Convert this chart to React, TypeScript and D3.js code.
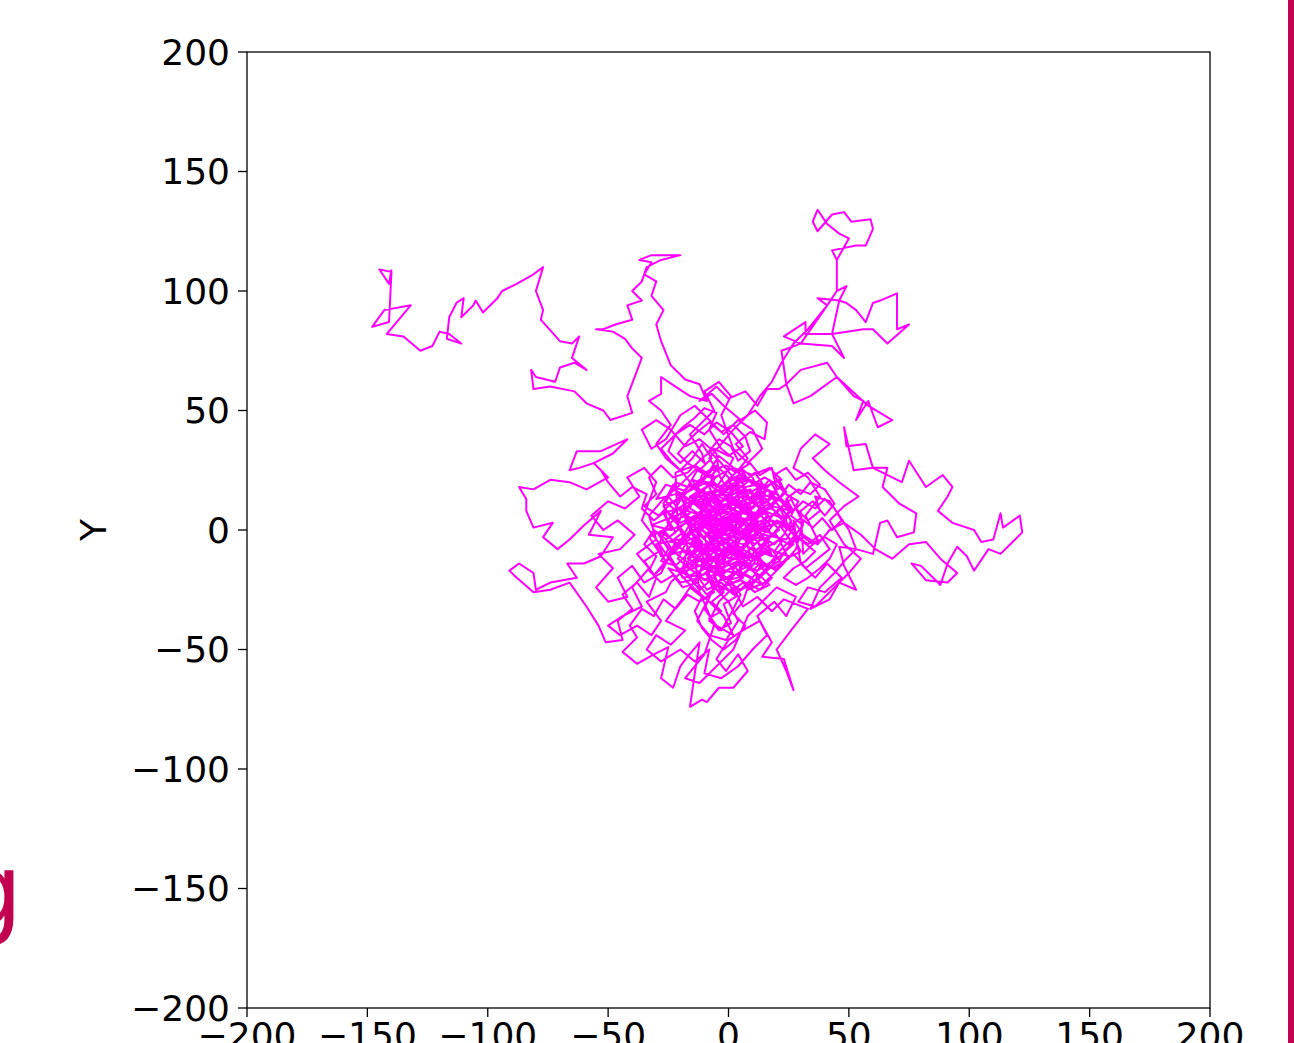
import * as d3 from "d3"

// in data units
const coreA: [number, number][] = [
  [0, 0], [4, 3], [1, 8], [-5, 6], [-3, 1], [-9, -2], [-6, -7], [0, -5], [3, -10], [8, -6], [6, 0], [11, 3], [9, 9], [4, 12],
  [-2, 10], [-6, 14], [-11, 10], [-8, 4], [-14, 2], [-12, -4], [-17, -8], [-13, -13], [-7, -11], [-4, -16], [2, -14], [5, -19],
  [10, -15], [13, -9], [18, -11], [16, -4], [21, 0], [17, 5], [14, 11], [19, 15], [13, 18], [8, 15], [5, 21], [-1, 18], [-4, 23],
  [-9, 19], [-15, 21], [-12, 15], [-19, 12], [-16, 7], [-22, 4], [-19, -1], [-24, -5], [-18, -6], [-21, -12], [-15, -17],
  [-10, -21], [-5, -18], [0, -23], [6, -20], [4, -13], [9, -10], [7, -4], [12, -1], [10, 5], [5, 3], [2, 7], [-3, 4], [-1, -2],
  [-7, 0], [-4, -5], [2, -3], [5, 2], [1, 4],
]

const armLeft: [number, number][] = [
  [-8, 2], [-14, 6], [-20, 3], [-26, 8], [-31, 4], [-36, 9], [-34, 15], [-40, 18], [-45, 14], [-50, 20], [-53, 25], [-56, 28],
  [-62, 26], [-66, 25], [-63, 33], [-53, 33], [-42, 38], [-48, 32], [-56, 28], [-50, 22], [-59, 17], [-66, 20], [-74, 21],
  [-81, 17], [-87, 18], [-84, 13], [-84, 8], [-81, 1], [-73, 3], [-77, -3], [-71, -8], [-66, -4], [-60, 2], [-53, 8], [-58, -2],
  [-48, -3], [-53, -11], [-60, -14], [-67, -14], [-63, -20], [-74, -22], [-80, -25], [-81, -18], [-87, -14], [-91, -17],
  [-89, -19], [-81, -26], [-74, -25], [-66, -22], [-59, -32], [-54, -40], [-51, -47], [-44, -46], [-46, -38], [-40, -33],
  [-44, -27], [-38, -22], [-33, -28], [-30, -20], [-35, -13], [-29, -9], [-33, -3], [-27, 0], [-22, -6],
]

const fillLeft: [number, number][] = [
  [-28, -18], [-35, -22], [-40, -15], [-46, -20], [-42, -28], [-50, -30], [-55, -24], [-48, -16], [-54, -10], [-45, -8],
  [-39, -2], [-46, 4], [-52, 0], [-57, 6], [-50, 12], [-43, 9], [-37, 14], [-42, 22], [-35, 26], [-30, 20], [-36, 4],
  [-30, -4], [-38, -10], [-33, -16], [-40, -24], [-36, -32], [-44, -36], [-50, -40], [-45, -44], [-38, -40], [-32, -44],
  [-28, -38], [-34, -30], [-26, -26],
]

const coreG: [number, number][] = [
  [-24, -22], [-14, -12], [-6, -3], [2, 5], [10, 13], [17, 21], [21, 14], [13, 6], [6, -3], [-2, -11], [-9, -19], [-4, -26],
  [4, -17], [11, -9], [19, -1], [25, 6], [28, -2], [21, -9], [14, -18], [8, -25], [15, -22], [22, -15], [28, -8], [31, 3],
  [26, 13], [19, 7], [12, -2], [4, -10], [-4, -18], [-12, -25], [-18, -18], [-10, -9], [-2, -1], [6, 8], [13, 17], [6, 23],
  [-1, 14], [-8, 6], [-16, -2], [-23, -10], [-29, -2], [-21, 6], [-13, 14], [-6, 21], [-13, 26], [-20, 19], [-27, 13],
  [-33, 6], [-30, -4], [-24, -13], [-17, -22], [-8, -30], [-2, -36], [2, -44], [-5, -40], [-10, -33], [-6, -24], [0, -30],
  [4, -38], [-1, -46], [-8, -44], [-13, -38], [-8, -28], [-3, -20],
]

const coreB: [number, number][] = [
  [3, 10], [-2, 13], [-7, 9], [-10, 14], [-5, 17], [0, 14], [6, 17], [10, 12], [15, 14], [12, 7], [17, 3], [14, -3], [19, -6],
  [23, -2], [26, 4], [22, 9], [25, 14], [20, 19], [15, 22], [10, 19], [6, 24], [1, 21], [-4, 26], [-8, 22], [-13, 25], [-17, 18],
  [-22, 20], [-25, 14], [-21, 9], [-27, 7], [-24, 1], [-29, -2], [-25, -8], [-28, -13], [-22, -15], [-19, -20], [-13, -19],
  [-9, -25], [-3, -22], [2, -27], [7, -24], [12, -20], [16, -16], [21, -13], [24, -8], [28, -4], [25, 2], [20, 4], [16, -1],
  [11, 1], [8, -3], [3, -1], [-1, 3], [-6, 2], [-10, -3], [-8, -9], [-2, -8], [3, -6], [6, -11], [1, -12], [-4, -10], [-9, -14],
  [-14, -10], [-11, -5], [-16, 0], [-13, 5], [-8, 7], [-3, 9], [2, 6], [7, 8], [12, 4], [9, -1], [4, -4], [-2, -1],
]

const armBottom: [number, number][] = [
  [-5, -10], [-9, -18], [-6, -26], [-12, -30], [-17, -27], [-22, -33], [-27, -29], [-31, -36], [-36, -33], [-41, -40],
  [-38, -45], [-44, -51], [-38, -56], [-31, -52], [-25, -49], [-28, -62], [-23, -66], [-20, -57], [-17, -53], [-12, -47],
  [-14, -60], [-16, -74], [-11, -71], [-9, -72], [-4, -66], [2, -66], [8, -59], [4, -52], [-1, -59], [-5, -54], [0, -46],
  [6, -42], [13, -38], [18, -47], [14, -53], [23, -54], [27, -67], [24, -59], [20, -50], [26, -42], [33, -33], [23, -29],
  [18, -34], [12, -28], [6, -32], [2, -24], [-4, -30], [-8, -38], [-3, -42], [1, -35], [5, -27], [0, -20], [-6, -22], [-10, -15],
]

const fillBottom: [number, number][] = [
  [-20, -30], [-26, -38], [-18, -42], [-24, -48], [-30, -44], [-34, -50], [-28, -55], [-20, -50], [-14, -55], [-8, -50],
  [-10, -60], [-3, -62], [4, -57], [10, -50], [16, -44], [12, -36], [19, -30], [24, -36], [28, -28], [20, -24], [14, -30],
  [8, -36], [2, -50], [-4, -56], [-12, -64], [-18, -62], [-10, -52], [-6, -40], [-12, -26],
]

const coreC: [number, number][] = [
  [-14, -12], [-18, -5], [-12, -2], [-16, 4], [-10, 8], [-14, 13], [-8, 16], [-3, 12], [2, 16], [0, 22], [6, 20], [11, 24],
  [15, 18], [21, 21], [24, 15], [29, 12], [26, 6], [31, 2], [27, -3], [30, -9], [24, -12], [20, -17], [14, -14], [10, -20],
  [4, -17], [-1, -20], [-6, -15], [-11, -19], [-16, -14], [-21, -17], [-25, -11], [-22, -5], [-28, -1], [-23, 4], [-27, 10],
  [-21, 13], [-17, 18], [-11, 20], [-7, 25], [-1, 27], [3, 24], [9, 28], [13, 23], [18, 26], [20, 17], [16, 12], [20, 7],
  [14, 4], [18, -2], [12, -5], [15, -10], [9, -13], [5, -8], [0, -12], [-4, -7], [-9, -9], [-7, -3], [-12, 1], [-6, 5], [-1, 1],
  [4, 5], [8, 1], [11, 7], [6, 9], [1, 12], [-4, 9],
]

const armRight: [number, number][] = [
  [2, 6], [9, 4], [15, 8], [22, 5], [28, 9], [33, 4], [38, 8], [36, 14], [42, 12], [46, 6], [50, 0], [53, -8], [46, -7],
  [48, -15], [53, -25], [46, -22], [42, -29], [34, -33], [38, -24], [44, -18], [49, -12], [53, -8], [60, -10], [63, 3], [66, 4],
  [70, -3], [77, -1], [78, 7], [71, 11], [64, 18], [66, 26], [60, 26], [57, 36], [49, 35], [48, 43], [52, 25], [60, 26],
  [72, 20], [75, 29], [82, 18], [89, 23], [93, 18], [91, 14], [87, 8], [93, 3], [102, 0], [105, -5], [110, -4], [113, 7],
  [114, 1], [121, 6], [122, -1], [116, -7], [113, -10], [108, -8], [102, -17], [99, -11], [95, -7], [91, -14], [88, -23],
  [85, -20], [80, -15], [76, -14], [82, -21], [91, -22], [95, -18], [88, -12], [82, -5], [75, -6], [68, -12], [61, -8],
  [55, -2], [48, 3], [42, 0], [37, -6], [31, -2], [27, 4],
]

const fillRight: [number, number][] = [
  [30, -14], [36, -20], [41, -14], [47, -20], [40, -26], [33, -24], [29, -30], [36, -32], [44, -24], [50, -18], [55, -12],
  [48, -6], [42, 4], [48, 10], [54, 14], [46, 20], [40, 25], [35, 30], [42, 36], [36, 40], [30, 34], [27, 26], [33, 22],
  [38, 14], [32, 6], [37, -4], [31, -10],
]

const coreD: [number, number][] = [
  [30, 8], [35, 12], [40, 6], [44, 11], [40, 17], [34, 20], [30, 15], [25, 19], [21, 13], [25, 8], [22, 2], [28, -2], [33, -6],
  [38, -2], [42, -8], [37, -12], [32, -16], [27, -10], [22, -14], [18, -8], [13, -11], [9, -5], [4, -9], [-1, -4], [-5, -8],
  [-10, -4], [-7, 2], [-12, 6], [-8, 11], [-3, 7], [2, 11], [7, 7], [12, 11], [9, 16], [4, 19], [-2, 16], [-6, 20], [-11, 17],
  [-15, 11], [-19, 7], [-15, 1], [-19, -4], [-14, -7], [-9, -11], [-3, -14], [3, -12], [8, -16], [13, -19], [17, -23],
  [11, -26], [6, -22], [1, -26], [-4, -23], [-9, -27], [-13, -22], [-19, -24], [-23, -19], [-28, -22], [-33, -17], [-30, -11],
  [-35, -6], [-31, 0], [-26, -4], [-21, 0],
]

const coreF: [number, number][] = [
  [-22, 24], [-14, 27], [-6, 22], [2, 26], [10, 23], [17, 26], [22, 21], [15, 18], [7, 21], [-1, 17], [-9, 20], [-17, 16],
  [-26, 19], [-30, 13], [-22, 15], [-13, 11], [-4, 15], [5, 12], [14, 15], [23, 12], [26, 8], [18, 10], [9, 6], [0, 9],
  [-8, 5], [-17, 8], [-27, 4], [-32, 2], [-24, 0], [-15, 4], [-6, 1], [3, 4], [12, 0], [21, 3], [27, 1], [24, -4], [15, -2],
  [6, -6], [-3, -3], [-12, -7], [-21, -4], [-30, -6], [-28, -11], [-19, -9], [-10, -13], [-1, -9], [8, -12], [17, -8],
  [25, -11], [20, -16], [11, -14], [2, -18], [-7, -15], [-16, -19], [-25, -16], [-20, -22], [-11, -20], [-3, -24], [5, -21],
  [13, -25], [18, -20], [12, -14], [15, -5], [11, 4], [14, 13], [10, 22], [5, 26], [3, 17], [6, 8], [2, -1], [5, -10],
  [1, -19], [-3, -27], [-6, -18], [-3, -9], [-7, 0], [-4, 9], [-8, 18], [-5, 27], [-11, 23], [-14, 14], [-10, 5], [-13, -4],
  [-10, -13], [-14, -22], [-19, -16], [-17, -7], [-21, 2], [-18, 11], [-23, 19], [-27, 11], [-25, 2], [-29, -6], [-26, -14],
  [-31, -19], [-22, -8], [-14, 6],
]

const coreH: [number, number][] = [
  [-10, 9], [-6, 5], [-9, 1], [-4, -2], [-7, -6], [-2, -9], [2, -5], [6, -8], [9, -3], [5, 1], [9, 5], [13, 2], [16, 6],
  [12, 10], [8, 13], [3, 10], [-1, 13], [-5, 10], [-9, 14], [-13, 10], [-17, 13], [-20, 9], [-16, 5], [-20, 1], [-17, -3],
  [-21, -7], [-16, -10], [-12, -6], [-8, -10], [-11, -14], [-6, -16], [-2, -13], [2, -16], [6, -13], [10, -17], [14, -13],
  [11, -9], [15, -6], [19, -9], [22, -5], [19, -1], [23, 3], [20, 7], [23, 11], [19, 14], [15, 11], [11, 15], [14, 19],
  [9, 21], [4, 17], [0, 20], [-4, 16], [-8, 19], [-12, 16], [-16, 19], [-19, 15], [-23, 17], [-26, 12], [-22, 8], [-25, 4],
  [-22, -1], [-26, -4], [-23, -9], [-19, -12], [-15, -15], [-11, -12], [-7, -15], [-3, -19], [1, -16], [5, -20], [9, -16],
  [13, -20], [17, -16], [20, -12], [16, -9], [12, -12], [8, -9], [4, -12], [0, -8], [-4, -11], [-8, -7], [-12, -9], [-15, -5],
  [-11, -2], [-15, 2], [-11, 5], [-7, 2], [-3, 5], [1, 2], [-2, -2], [2, -1], [6, 3], [3, 6], [7, 9], [11, 6], [14, 9], [10, 12],
  [6, 10], [2, 13], [-2, 9], [-6, 12], [-3, 16], [1, 18], [5, 15], [9, 17], [12, 13], [8, 6], [12, -1], [8, -5], [4, -2],
  [0, 1], [-4, -1], [-1, 4], [-5, 7], [-9, 5], [-12, 1], [-8, -3], [-4, -5], [0, -3], [4, -6], [1, -10], [-3, -6], [-6, -2],
]

const coreL: [number, number][] = [
  [-12, 3], [-7, 8], [-13, 12], [-8, 16], [-2, 13], [3, 17], [8, 13], [13, 16], [17, 11], [12, 8], [16, 3], [11, -1],
  [16, -5], [12, -10], [7, -6], [2, -10], [-3, -6], [-8, -11], [-13, -7], [-17, -12], [-12, -15], [-6, -12], [-1, -15],
  [4, -13], [9, -14], [14, -8], [18, -2], [14, 4], [9, 2], [4, 6], [-1, 4], [-6, 8], [-11, 6], [-16, 9], [-14, 15], [-9, 12],
  [-4, 17], [1, 12], [6, 16], [11, 11], [15, 7], [10, 4], [5, -1], [0, -3], [-5, 1], [-10, -3], [-15, 0], [-18, 5], [-14, -4],
  [-9, -7], [-4, -11], [1, -7], [6, -11], [11, -6], [6, -2], [1, 1], [-4, -3], [-9, 1], [-5, 4], [0, 7], [5, 3], [10, 7],
  [7, 11], [2, 9], [-3, 11], [-8, 7], [-12, 10], [-16, 14], [-11, 17], [-6, 13], [-1, 16], [4, 12], [9, 9], [13, 12], [16, 17],
  [12, 19], [7, 18], [3, 14], [-2, 10], [-7, 5], [-12, -1], [-16, -6], [-11, -10], [-6, -7], [-1, -11], [4, -8], [8, -11],
  [13, -13], [10, -7], [15, -2], [10, 0], [5, -4], [0, 0], [-5, -4],
]

const coreM: [number, number][] = [
  [-10, -8], [-18, -2], [-24, 6], [-19, 14], [-12, 21], [-4, 18], [4, 22], [12, 19], [20, 15], [26, 9], [22, 1], [27, -6],
  [20, -12], [12, -17], [4, -14], [-4, -19], [-12, -15], [-20, -18], [-25, -10], [-20, -4], [-13, 1], [-6, -3], [2, 1],
  [10, -3], [17, 2], [24, 4], [18, 9], [10, 7], [2, 12], [-6, 9], [-14, 13], [-21, 9], [-16, 4], [-9, 6], [-2, 4], [5, 8],
  [12, 13], [18, 20], [24, 16], [19, 11], [13, 6], [8, -1], [15, -8], [21, -4], [25, -12], [18, -16], [11, -11], [4, -7],
  [-3, -11], [-10, -14], [-17, -10], [-22, -15], [-15, -21], [-7, -17], [0, -21], [7, -19], [14, -23], [9, -15], [3, -9],
  [-2, -5],
]

const coreI: [number, number][] = [
  [-2, -12], [-6, -20], [-2, -26], [-7, -30], [-3, -34], [-8, -37], [-4, -42], [1, -39], [-2, -31], [3, -28], [0, -22],
  [5, -25], [9, -21], [6, -30], [2, -35], [7, -40], [3, -46], [-2, -50], [-7, -46], [-11, -41], [-14, -34], [-11, -28],
  [-16, -24], [-12, -19], [-18, -15], [-14, -9],
]

const coreJ: [number, number][] = [
  [-6, -6], [2, -2], [10, 1], [18, 4], [25, 1], [30, 5], [35, 1], [39, 5], [43, 0], [47, 4], [44, 9], [40, 13], [36, 9],
  [31, 12], [27, 8], [24, 13], [29, 17], [34, 15], [38, 19], [33, 24], [28, 21], [24, 26], [19, 23], [22, 18], [17, 15],
  [21, 10], [26, -1], [31, -5], [36, -9], [32, -13], [27, -16], [23, -20], [28, -23], [33, -20], [38, -16], [42, -12],
  [45, -6], [40, -3], [35, -6], [30, -2], [25, -6], [20, -3], [15, 0],
]

const coreK: [number, number][] = [
  [10, 4], [6, 14], [2, 22], [-3, 28], [-8, 33], [-4, 38], [1, 35], [4, 29], [9, 33], [7, 39], [2, 44], [-3, 41], [-8, 45],
  [-13, 41], [-17, 37], [-21, 32], [-17, 28], [-12, 25], [-7, 30], [-11, 36], [-15, 30], [-20, 25], [-24, 29], [-28, 34],
  [-24, 38], [-19, 43], [-14, 47], [-10, 51], [-5, 49], [-8, 42], [-3, 34], [2, 30], [-1, 24],
]

const armUpperRight: [number, number][] = [
  [-8, 13], [-2, 19], [4, 25], [8, 30], [3, 36], [9, 41], [15, 38], [16, 45], [11, 50], [5, 46], [-2, 52], [-7, 57],
  [-12, 54], [-5, 60], [0, 55], [7, 58], [12, 52], [16, 59], [21, 59], [24, 61], [27, 53], [34, 56], [45, 64], [52, 56],
  [56, 54], [53, 46], [58, 54], [62, 43], [68, 46], [58, 52], [45, 64], [41, 70], [30, 67], [24, 61], [22, 75], [30, 78],
  [43, 77], [48, 72], [43, 82], [32, 82], [32, 87], [23, 81], [30, 78], [41, 94], [37, 97], [46, 96], [49, 95], [53, 92],
  [57, 87], [60, 95], [63, 96], [70, 99], [70, 84], [75, 86], [66, 78], [60, 84], [56, 84], [43, 82], [46, 96], [49, 102],
  [45, 100], [45, 113], [43, 117], [53, 119], [57, 119], [60, 126], [59, 130], [51, 129], [48, 133], [43, 132], [37, 125],
  [35, 129], [37, 134], [41, 128], [46, 124], [50, 122], [45, 113], [45, 100], [41, 94], [33, 84], [27, 78], [22, 70],
  [18, 62], [13, 56], [8, 48], [2, 42], [-3, 36], [-8, 30], [-4, 24],
]

const fillTop: [number, number][] = [
  [-5, 32], [-12, 38], [-18, 35], [-24, 42], [-30, 46], [-36, 42], [-32, 34], [-26, 38], [-20, 48], [-14, 52], [-8, 46],
  [-2, 40], [4, 46], [10, 42], [14, 34], [8, 28], [2, 34], [-3, 48], [1, 56], [-4, 62], [-10, 58], [-6, 50], [-16, 40],
  [-11, 32],
]

const coreE: [number, number][] = [
  [-10, 28], [-15, 33], [-20, 28], [-25, 33], [-22, 40], [-16, 44], [-10, 40], [-5, 45], [1, 41], [6, 35], [0, 31], [-6, 34],
  [-11, 30], [-17, 24], [-23, 22], [-28, 27], [-33, 22], [-30, 15], [-35, 10], [-29, 6], [-24, 11], [-18, 14], [-12, 9],
  [-6, 13], [0, 9], [5, 14], [10, 9], [15, 14], [12, 19], [6, 22], [1, 27], [-4, 31], [-9, 23], [-14, 19], [-9, 14], [-4, 4],
  [2, 2], [7, -2], [3, -6], [-2, -9], [-8, -6], [-13, -1], [-9, 4], [-3, -2],
]

const armUpperMid: [number, number][] = [
  [-8, 8], [-13, 16], [-19, 24], [-26, 30], [-30, 36], [-24, 44], [-28, 50], [-33, 54], [-28, 57], [-28, 64], [-22, 60],
  [-16, 56], [-9, 54], [-12, 61], [-18, 63], [-24, 69], [-28, 79], [-30, 86], [-27, 92], [-32, 98], [-30, 104], [-35, 107],
  [-32, 112], [-37, 113], [-32, 115], [-26, 115], [-20, 115], [-28, 113], [-34, 110], [-36, 104], [-40, 100], [-36, 96],
  [-42, 94], [-40, 88], [-47, 86], [-52, 84], [-55, 84], [-48, 83], [-43, 80], [-40, 76], [-36, 72], [-39, 64], [-42, 56],
  [-40, 49], [-49, 46], [-52, 50], [-59, 53], [-64, 58], [-74, 60], [-81, 59], [-82, 67], [-80, 64], [-72, 62], [-70, 68],
  [-64, 70], [-59, 67],
]

const armUpperLeft: [number, number][] = [
  [-65, 72], [-62, 81], [-65, 78], [-70, 79], [-78, 88], [-77, 92], [-80, 100], [-77, 110], [-81, 107], [-88, 103],
  [-94, 100], [-96, 97], [-102, 91], [-105, 96], [-106, 94], [-111, 89], [-110, 97], [-113, 95], [-116, 89], [-117, 80],
  [-111, 78], [-116, 82], [-120, 83], [-123, 77], [-128, 75], [-135, 81], [-142, 82], [-132, 94], [-143, 92], [-148, 85],
  [-141, 87], [-140, 108], [-145, 109], [-141, 103], [-140, 109],
]

const walk = [
  ...coreA, ...armLeft, ...fillLeft, ...coreG, ...coreB, ...armBottom, ...fillBottom, ...coreC, ...armRight,
  ...fillRight, ...coreD, ...coreF, ...coreH, ...coreL, ...coreM, ...coreI, ...coreJ, ...coreK, ...armUpperRight,
  ...fillTop, ...coreE, ...armUpperMid, ...armUpperLeft,
]

const xTicks = [-200, -150, -100, -50, 0, 50, 100, 150, 200]
const yTicks = [-200, -150, -100, -50, 0, 50, 100, 150, 200]
const yLabel = "Y"

const W = 1294
const H = 1043
const M = { left: 247, right: 1210, top: 52, bottom: 1008 }
const FONT = "DejaVu Sans, sans-serif"
const CRIMSON = "#c2024f"
const FS = 36

const fmt = (v: number) => (v < 0 ? `\u2212${-v}` : `${v}`)

export default function App() {
  const x = d3.scaleLinear().domain([-200, 200]).range([M.left, M.right])
  const y = d3.scaleLinear().domain([-200, 200]).range([M.bottom, M.top])
  const line = d3
    .line<[number, number]>()
    .x((d) => x(d[0]))
    .y((d) => y(d[1]))

  return (
    <svg
      width={W}
      height={H}
      style={{ position: "absolute", left: 0, top: 0, background: "#fff" }}
      fontFamily={FONT}
    >
      <rect x={0} y={0} width={W} height={H} fill="#fff" />

      {/* cut-off letter from the neighbouring slide */}
      <text x={-41} y={925} fontSize={100} fill={CRIMSON} fontFamily={FONT}>
        g
      </text>
      <rect x={1288} y={0} width={6} height={H} fill={CRIMSON} />

      <path d={line(walk) ?? ""} fill="none" stroke="#ff00ff" strokeWidth={2} strokeLinejoin="round" />

      <rect
        x={M.left}
        y={M.top}
        width={M.right - M.left}
        height={M.bottom - M.top}
        fill="none"
        stroke="#000"
        strokeWidth={1.3}
      />

      {yTicks.map((t) => (
        <g key={`y${t}`} transform={`translate(0,${y(t)})`}>
          <line x1={M.left - 9} x2={M.left} stroke="#000" strokeWidth={1.3} />
          <text x={M.left - 17} dy="0.36em" textAnchor="end" fontSize={FS} fill="#000">
            {fmt(t)}
          </text>
        </g>
      ))}

      {xTicks.map((t) => (
        <g key={`x${t}`} transform={`translate(${x(t)},0)`}>
          <line y1={M.bottom} y2={M.bottom + 9} stroke="#000" strokeWidth={1.3} />
          <text y={M.bottom + 40} textAnchor="middle" fontSize={FS} fill="#000">
            {fmt(t)}
          </text>
        </g>
      ))}

      <text
        transform={`translate(106,${y(0)}) rotate(-90)`}
        textAnchor="middle"
        fontSize={FS}
        fill="#000"
      >
        {yLabel}
      </text>
    </svg>
  )
}
